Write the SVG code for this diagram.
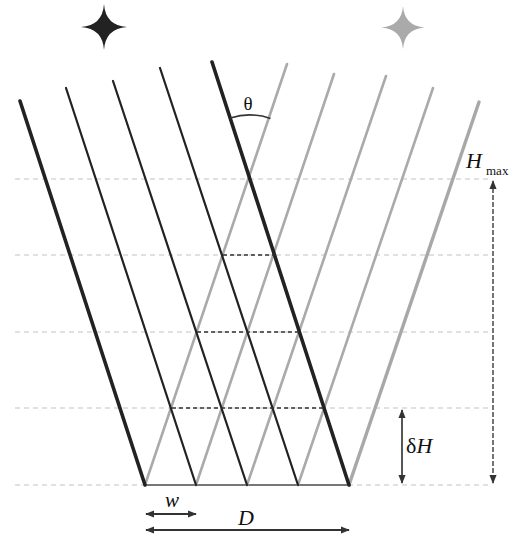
<svg xmlns="http://www.w3.org/2000/svg" width="519" height="540" viewBox="0 0 519 540">
<style>
.guide{stroke:#c4c4c4;stroke-width:1.2;stroke-dasharray:5 4;fill:none}
.dk{stroke:#222;stroke-width:2.2;stroke-linecap:round;fill:none}
.dkT{stroke:#222;stroke-width:3.6;stroke-linecap:round;fill:none}
.gr{stroke:#aaa;stroke-width:2.6;stroke-linecap:round;fill:none}
.grT{stroke:#a8a8a8;stroke-width:3.4;stroke-linecap:round;fill:none}
.bridge{stroke:#333;stroke-width:1.6;stroke-dasharray:4 3;fill:none}
.t{font-family:"Liberation Serif","DejaVu Serif",serif;fill:#111}
</style>
<defs>
<marker id="ah" viewBox="0 0 10 10" refX="9" refY="5" markerWidth="9" markerHeight="9" markerUnits="userSpaceOnUse" orient="auto-start-reverse">
<path d="M0,1 L10,5 L0,9 Z" fill="#333"/>
</marker>
</defs>
<g id="guides">
<line class="guide" x1="15" y1="179" x2="492" y2="179"/>
<line class="guide" x1="15" y1="255" x2="492" y2="255"/>
<line class="guide" x1="15" y1="332" x2="488" y2="332"/>
<line class="guide" x1="15" y1="408" x2="492" y2="408"/>
<line class="guide" x1="15" y1="485" x2="492" y2="485"/>
</g>
<g id="stars">
<path d="M104,4 Q105.5,25.5 127,27 Q105.5,28.5 104,50 Q102.5,28.5 81,27 Q102.5,25.5 104,4 Z" fill="#222"/>
<path d="M403,6 Q404.5,26 424.5,27.5 Q404.5,29 403,49 Q401.5,29 381.5,27.5 Q401.5,26 403,6 Z" fill="#aaa"/>
</g>
<g id="connectors">
<line x1="145" y1="485" x2="349" y2="485" stroke="#777" stroke-width="2"/>
<line class="gr" x1="145" y1="485" x2="287" y2="64"/>
<line class="gr" x1="196" y1="485" x2="334" y2="74"/>
<line class="gr" x1="247" y1="485" x2="386" y2="76"/>
<line class="gr" x1="298" y1="485" x2="433" y2="88"/>
<line class="grT" x1="349" y1="485" x2="479" y2="102"/>
<line class="dkT" x1="145" y1="485" x2="20" y2="101"/>
<line class="dk" x1="196" y1="485" x2="66" y2="88"/>
<line class="dk" x1="247" y1="485" x2="113" y2="81"/>
<line class="dk" x1="298" y1="485" x2="160" y2="68"/>
<line class="dkT" x1="349" y1="485" x2="212" y2="62"/>
<line class="bridge" x1="223" y1="255" x2="275" y2="255"/>
<line class="bridge" x1="197" y1="332" x2="300" y2="332"/>
<line class="bridge" x1="172" y1="408" x2="323" y2="408"/>
<path d="M230.3,118.1 A64,64 0 0 1 270.5,118.4" stroke="#333" stroke-width="1.6" fill="none"/>
<line x1="493" y1="181" x2="493" y2="483" stroke="#666" stroke-width="1.8" stroke-dasharray="5 2" marker-start="url(#ah)" marker-end="url(#ah)"/>
<line x1="402" y1="410" x2="402" y2="483" stroke="#444" stroke-width="1.8" marker-start="url(#ah)" marker-end="url(#ah)"/>
<line x1="146" y1="514" x2="196" y2="514" stroke="#333" stroke-width="1.8" marker-start="url(#ah)" marker-end="url(#ah)"/>
<line x1="146" y1="530" x2="349" y2="530" stroke="#333" stroke-width="1.8" marker-start="url(#ah)" marker-end="url(#ah)"/>
</g>
<g id="labels">
<text class="t" x="248" y="110" font-size="19" text-anchor="middle">θ</text>
<text class="t" x="466" y="168" font-size="22" font-style="italic">H</text>
<text class="t" x="486" y="175" font-size="13">max</text>
<text class="t" x="406" y="453" font-size="22">δ<tspan font-style="italic">H</tspan></text>
<text class="t" x="172" y="507" font-size="21" font-style="italic" text-anchor="middle">w</text>
<text class="t" x="246" y="525" font-size="22" font-style="italic" text-anchor="middle">D</text>
</g>
</svg>
